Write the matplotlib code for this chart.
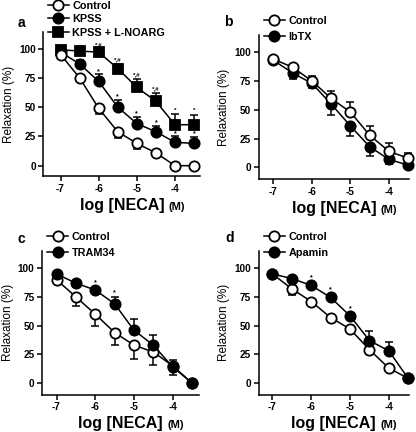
import numpy as np
import matplotlib
matplotlib.use("Agg")
import matplotlib.pyplot as plt

plt.rcParams["font.family"] = ["Liberation Sans", "DejaVu Sans"]
plt.rcParams["axes.unicode_minus"] = False

# log [NECA] (M)
X = [-7, -6.5, -6, -5.5, -5, -4.5, -4, -3.5]

# panel a
A_CONTROL = [95, 75, 49, 29, 19, 11, 0, 0]
A_CONTROL_ERR = [2, 3, 5, 5, 5, 2, 0, 0]          # drawn downward
A_KPSS = [97, 87, 72, 50, 36, 29, 20, 19]
A_KPSS_ERR = [2, 3, 6, 6, 6, 5, 5, 5.5]           # drawn upward
A_NOARG = [99, 98, 97, 83, 67, 55, 35, 35]
A_NOARG_ERR = [2, 2, 3, 4, 7, 7, 9, 8.5]          # drawn upward

# panel b
B_CONTROL = [94, 87, 75, 60, 48, 28, 14, 8]
B_CONTROL_ERR = [1, 2, 4, 6, 8.5, 8, 7, 5]        # up
B_IBTX = [93, 82, 73, 55, 36, 18, 7, 2]
B_IBTX_ERR = [1, 5, 4, 9.5, 9, 8, 4, 1]           # down

# panel c
C_CONTROL = [90, 75, 60, 44, 33, 27, 15, 0]
C_CONTROL_ERR = [2, 8, 10, 11, 12.5, 11, 8, 0]    # down
C_TRAM = [95, 87, 81, 69, 46, 33, 14, 0]
C_TRAM_ERR = [1, 2, 2, 6, 9.5, 8.5, 6, 0]         # up

# panel d
D_CONTROL = [95, 82, 71, 57, 47, 29, 13, 4]
D_CONTROL_ERR = [1, 5, 3, 1, 1, 2, 1, 0]          # down
D_APAMIN = [95, 91, 85, 74.5, 58.5, 37, 28, 4]
D_APAMIN_ERR = [1, 1, 2, 2, 2, 8, 8, 0]           # up

# significance marks: (x, label) placed above the upper error
A_KPSS_SIG = [(-6, "*"), (-5.5, "*"), (-5, "*"), (-4.5, "*"), (-4, "*"), (-3.5, "*")]
A_NOARG_SIG = [(-6, "*,#"), (-5.5, "*,#"), (-5, "*,#"), (-4.5, "*,#"), (-4, "*"), (-3.5, "*")]
C_TRAM_SIG = [(-6, "*"), (-5.5, "*")]
D_APAMIN_SIG = [(-6, "*"), (-5.5, "*"), (-5, "*")]

W, H = 416, 432
fig = plt.figure(figsize=(W / 100, H / 100), dpi=100)


def px_axes(left, top, right, bottom):
    return fig.add_axes([left / W, 1 - bottom / H, (right - left) / W, (bottom - top) / H])


def series(ax, y, err, up, marker, face, z):
    y = np.array(y, dtype=float)
    err = np.array(err, dtype=float)
    zeros = np.zeros_like(err)
    yerr = [zeros, err] if up else [err, zeros]
    ax.errorbar(X, y, yerr=yerr, fmt="none", ecolor="black", elinewidth=1.1,
                capsize=3, capthick=1.1, zorder=z - 0.5, clip_on=False)
    line, = ax.plot(X, y, color="black", lw=1.1, marker=marker, ms=7.4,
                    mfc=face, mec="black", mew=1.3, zorder=z, clip_on=False)
    return line


def stars(ax, sig, y, err, dy=3.5, fs=5):
    for xv, lab in sig:
        i = X.index(xv)
        ax.text(xv, y[i] + err[i] + dy, lab, ha="center", va="center",
                fontsize=fs, fontweight="bold")


def style(ax, xlim, ylim):
    ax.set_xlim(*xlim)
    ax.set_ylim(*ylim)
    for s in ["top", "right"]:
        ax.spines[s].set_visible(False)
    for s in ["left", "bottom"]:
        ax.spines[s].set_linewidth(1.1)
    ax.set_xticks([-7, -6, -5, -4])
    ax.set_yticks([0, 25, 50, 75, 100])
    ax.tick_params(direction="out", length=3.5, width=1.1, pad=2, labelsize=7.2)
    for lab in ax.get_xticklabels() + ax.get_yticklabels():
        lab.set_fontweight("bold")
    ax.set_ylabel("Relaxation (%)", fontsize=8.5, labelpad=3)
    ax.set_xlabel("log [NECA]", fontsize=11.5, fontweight="bold", labelpad=3)
    ax.annotate("(M)", xy=(1, 0.08), xycoords=ax.xaxis.label, xytext=(3, 0),
                textcoords="offset points", ha="left", va="bottom",
                fontsize=8, fontweight="bold")


def legend(ax, handles, labels, x, y, spacing):
    ax.legend(handles, labels, loc="upper left",
              bbox_to_anchor=(x / W, 1 - y / H), bbox_transform=fig.transFigure,
              frameon=False, borderpad=0, borderaxespad=0, handlelength=1.9,
              handletextpad=0.35, labelspacing=spacing,
              prop={"size": 7.8, "weight": "bold"})


def letter(ch, x, y):
    fig.text(x / W, 1 - y / H, ch, ha="center", va="center", fontsize=10,
             fontweight="bold")


# a
ax = px_axes(43.4, 31.7, 200.5, 176.2)
h3 = series(ax, A_NOARG, A_NOARG_ERR, True, "s", "black", 3)
h2 = series(ax, A_KPSS, A_KPSS_ERR, True, "o", "black", 4)
h1 = series(ax, A_CONTROL, A_CONTROL_ERR, False, "o", "white", 5)
stars(ax, A_KPSS_SIG, A_KPSS, A_KPSS_ERR, dy=2.5)
stars(ax, A_NOARG_SIG, A_NOARG, A_NOARG_ERR, dy=3.5, fs=4.5)
style(ax, (-7.45, -3.33), (-9, 114.5))
legend(ax, [h1, h2, h3], ["Control", "KPSS", "KPSS + L-NOARG"], 48, 0.8, 0.32)
letter("a", 21, 23)

# b
ax = px_axes(258.8, 35, 409, 179)
h2 = series(ax, B_IBTX, B_IBTX_ERR, False, "o", "black", 3)
h1 = series(ax, B_CONTROL, B_CONTROL_ERR, True, "o", "white", 4)
style(ax, (-7.38, -3.48), (-10, 115))
legend(ax, [h1, h2], ["Control", "IbTX"], 264, 16.2, 0.56)
letter("b", 228, 22)

# c
ax = px_axes(42.2, 251, 199, 394.5)
h1 = series(ax, C_CONTROL, C_CONTROL_ERR, False, "o", "white", 3)
h2 = series(ax, C_TRAM, C_TRAM_ERR, True, "o", "black", 4)
stars(ax, C_TRAM_SIG, C_TRAM, C_TRAM_ERR, dy=4)
style(ax, (-7.37, -3.32), (-10, 115))
legend(ax, [h1, h2], ["Control", "TRAM34"], 47.3, 231.5, 0.6)
letter("c", 21, 239)

# d
ax = px_axes(258.5, 251, 409, 394.5)
h1 = series(ax, D_CONTROL, D_CONTROL_ERR, False, "o", "white", 3)
h2 = series(ax, D_APAMIN, D_APAMIN_ERR, True, "o", "black", 4)
stars(ax, D_APAMIN_SIG, D_APAMIN, D_APAMIN_ERR, dy=4.5)
style(ax, (-7.36, -3.48), (-10, 115))
legend(ax, [h1, h2], ["Control", "Apamin"], 264, 231.5, 0.56)
letter("d", 230, 238)

fig.savefig("out.png", dpi=100)
